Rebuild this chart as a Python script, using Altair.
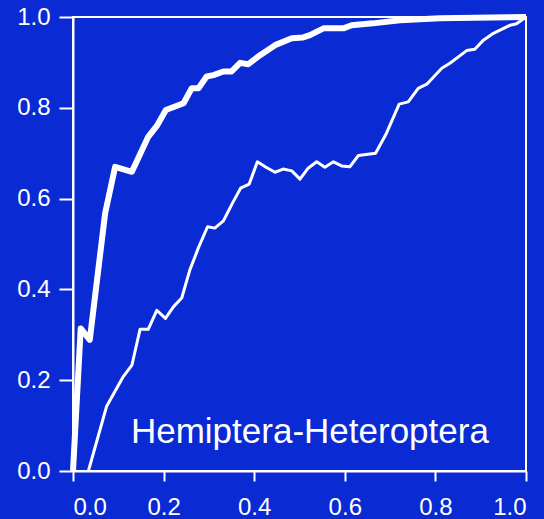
import altair as alt
import pandas as pd

# Cumulative curves (x = proportion, y = cumulative proportion)
thin_x = [0.034, 0.074, 0.111, 0.130, 0.148, 0.166, 0.185, 0.204, 0.222, 0.240,
          0.258, 0.277, 0.297, 0.313, 0.332, 0.352, 0.370, 0.389, 0.407, 0.426,
          0.446, 0.464, 0.483, 0.501, 0.519, 0.538, 0.556, 0.575, 0.593, 0.611,
          0.630, 0.668, 0.692, 0.720, 0.740, 0.762, 0.781, 0.814, 0.832, 0.869,
          0.887, 0.906, 0.928, 0.965, 0.979, 1.000]
thin_y = [0.000, 0.142, 0.208, 0.233, 0.312, 0.312, 0.354, 0.336, 0.362, 0.381,
          0.443, 0.492, 0.538, 0.535, 0.551, 0.590, 0.623, 0.632, 0.681, 0.669,
          0.658, 0.665, 0.661, 0.643, 0.667, 0.681, 0.669, 0.681, 0.672, 0.670,
          0.695, 0.700, 0.744, 0.808, 0.813, 0.843, 0.852, 0.887, 0.898, 0.926,
          0.929, 0.949, 0.964, 0.982, 0.985, 1.000]

thick_x = [0.000, 0.017, 0.037, 0.071, 0.093, 0.130, 0.166, 0.185, 0.205, 0.244,
           0.262, 0.277, 0.295, 0.310, 0.332, 0.350, 0.369, 0.387, 0.413, 0.446,
           0.483, 0.508, 0.523, 0.553, 0.597, 0.615, 0.662, 0.722, 0.810, 1.000]
thick_y = [0.000, 0.314, 0.289, 0.568, 0.670, 0.659, 0.736, 0.760, 0.795, 0.810,
           0.843, 0.843, 0.869, 0.872, 0.880, 0.880, 0.899, 0.896, 0.916, 0.938,
           0.953, 0.955, 0.960, 0.975, 0.975, 0.982, 0.986, 0.993, 0.997, 1.000]

tick_values = [0.0, 0.2, 0.4, 0.6, 0.8, 1.0]
label_text = "Hemiptera-Heteroptera"

BG = "#0a2ad4"
FONT = "Liberation Sans"

thin_df = pd.DataFrame({"x": thin_x, "y": thin_y})
thick_df = pd.DataFrame({"x": thick_x, "y": thick_y})

x_scale = alt.Scale(domain=[0, 1], nice=False)
y_scale = alt.Scale(domain=[0, 1], nice=False)

x_axis = alt.Axis(values=tick_values, format=".1f", title=None, grid=False,
                  tickSize=10, labelPadding=14)
y_axis = alt.Axis(values=tick_values, format=".1f", title=None, grid=False,
                  tickSize=14, labelPadding=9)

thin = alt.Chart(thin_df).mark_line(color="white", strokeWidth=3, strokeJoin="round").encode(
    x=alt.X("x:Q", scale=x_scale, axis=x_axis),
    y=alt.Y("y:Q", scale=y_scale, axis=y_axis),
)

thick = alt.Chart(thick_df).mark_line(color="white", strokeWidth=6, strokeJoin="round").encode(
    x=alt.X("x:Q", scale=x_scale),
    y=alt.Y("y:Q", scale=y_scale),
)

label = alt.Chart(pd.DataFrame({"x": [0.523], "y": [0.062], "t": [label_text]})).mark_text(
    color="white", font=FONT, fontSize=35, align="center", baseline="alphabetic"
).encode(
    x=alt.X("x:Q", scale=x_scale),
    y=alt.Y("y:Q", scale=y_scale),
    text="t:N",
)

chart = alt.layer(thin, thick, label).properties(
    width=453,
    height=454,
    background=BG,
    padding={"left": 73, "top": 17, "right": 18, "bottom": 48},
    autosize=alt.AutoSizeParams(type="none"),
).configure_view(
    stroke="white", strokeWidth=2, fill=BG
).configure_axis(
    domainColor="white", domainWidth=2,
    tickColor="white", tickWidth=2,
    labelColor="white", labelFont=FONT, labelFontSize=24,
)

chart.save("out.html", embed_options={"renderer": "svg", "actions": False})
